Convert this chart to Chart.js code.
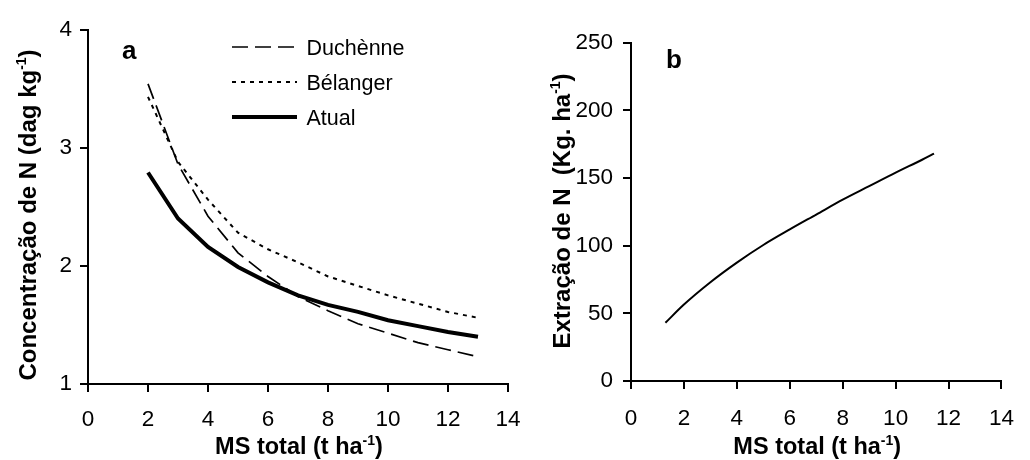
<!DOCTYPE html>
<html><head><meta charset="utf-8">
<script src="https://cdn.jsdelivr.net/npm/chart.js@4.4.0/dist/chart.umd.min.js"></script>
<style>
html,body{margin:0;padding:0;background:#fff;}
#wrap{position:relative;width:1030px;height:460px;background:#fff;}
canvas{position:absolute;left:0;top:0;}
</style></head><body>
<div id="wrap">
<canvas id="ca" width="1030" height="460"></canvas>
<canvas id="cb" width="1030" height="460"></canvas>
</div>
<script>
// ---- data ----
const msTotal   = [2, 3, 4, 5, 6, 7, 8, 9, 10, 11, 12, 13];
const duchenne  = [3.54, 2.86, 2.42, 2.11, 1.91, 1.74, 1.62, 1.51, 1.43, 1.35, 1.29, 1.23];
const belanger  = [3.43, 2.88, 2.56, 2.28, 2.14, 2.03, 1.91, 1.83, 1.75, 1.68, 1.61, 1.56];
const atual     = [2.79, 2.40, 2.16, 1.99, 1.86, 1.75, 1.67, 1.61, 1.54, 1.49, 1.44, 1.40];
const msTotalB  = [1.3, 2, 3, 4, 5, 6, 7, 8, 9, 10, 11, 11.45];
const extracao  = [43, 56.5, 73, 87.5, 100.5, 112, 123, 134, 144, 154, 163.5, 168];
const xTicks    = [0, 2, 4, 6, 8, 10, 12, 14];
const yTicksA   = [1, 2, 3, 4];
const yTicksB   = [0, 50, 100, 150, 200, 250];
const seriesNames = ['Duchènne', 'Bélanger', 'Atual'];

const FAM = "'Liberation Sans', Arial, Helvetica, sans-serif";
const pts = (xs, ys) => xs.map((x, i) => ({x: x, y: ys[i]}));

function drawRich(ctx, parts, x, y, size, rotate) {
  ctx.save();
  ctx.translate(x, y);
  if (rotate) ctx.rotate(-Math.PI / 2);
  ctx.fillStyle = '#000';
  ctx.textAlign = 'left';
  ctx.textBaseline = 'alphabetic';
  const supSize = Math.round(size * 0.6);
  const widths = parts.map(p => {
    ctx.font = 'bold ' + (p.sup ? supSize : size) + 'px ' + FAM;
    return ctx.measureText(p.t).width;
  });
  const total = widths.reduce((a, b) => a + b, 0);
  let cur = -total / 2;
  parts.forEach((p, i) => {
    ctx.font = 'bold ' + (p.sup ? supSize : size) + 'px ' + FAM;
    ctx.fillText(p.t, cur, p.sup ? -size * 0.4 : 0);
    cur += widths[i];
  });
  ctx.restore();
}

function axisCfg(min, max, ticksArr, pad, fitProp, fitVal) {
  return {
    type: 'linear', min: min, max: max,
    afterBuildTicks: s => { s.ticks = ticksArr.map(v => ({value: v})); },
    grid: {drawOnChartArea: false, drawTicks: true, tickLength: 8, color: '#000', lineWidth: 2},
    border: {display: true, color: '#000', width: 2},
    ticks: {color: '#000', font: {family: FAM, size: 22.5}, padding: pad, maxRotation: 0, autoSkip: false},
    title: {display: false},
    afterFit: s => { s[fitProp] = fitVal; }
  };
}

const xTitle = [{t: 'MS total (t ha'}, {t: '-1', sup: true}, {t: ')'}];

const textA = {
  id: 'textA',
  afterDraw(chart) {
    const ctx = chart.ctx;
    const ca = chart.chartArea;
    drawRich(ctx, xTitle, (ca.left + ca.right) / 2 + 1, 454, 23.5, false);
    drawRich(ctx, [{t: 'Concentração de N (dag kg'}, {t: '-1', sup: true}, {t: ')'}], 36, 215, 24, true);
    ctx.save();
    ctx.fillStyle = '#000';
    ctx.font = 'bold 26px ' + FAM;
    ctx.fillText('a', 122, 59);
    // legend
    chart.data.datasets.forEach((ds, i) => {
      const y = 47 + 35 * i;
      ctx.beginPath();
      ctx.setLineDash(ds.borderDash || []);
      ctx.lineWidth = ds.borderWidth;
      ctx.strokeStyle = ds.borderColor;
      ctx.moveTo(232, y); ctx.lineTo(297, y);
      ctx.stroke();
      ctx.setLineDash([]);
      ctx.font = '21.5px ' + FAM;
      ctx.fillStyle = '#000';
      ctx.fillText(ds.label, 306.5, y + 7.8);
    });
    ctx.restore();
  }
};

const textB = {
  id: 'textB',
  afterDraw(chart) {
    const ctx = chart.ctx;
    const ca = chart.chartArea;
    drawRich(ctx, xTitle, (ca.left + ca.right) / 2 + 1, 454, 23.5, false);
    drawRich(ctx, [{t: 'Extração de N  (Kg. ha'}, {t: '-1', sup: true}, {t: ')'}], 570, 211, 24, true);
    ctx.save();
    ctx.fillStyle = '#000';
    ctx.font = 'bold 26px ' + FAM;
    ctx.fillText('b', 666, 68);
    ctx.restore();
  }
};

new Chart(document.getElementById('ca'), {
  type: 'scatter',
  data: {
    datasets: [
      {label: seriesNames[0], data: pts(msTotal, duchenne), showLine: true, borderColor: '#000', borderWidth: 1.7, borderDash: [16, 7], pointRadius: 0, fill: false, tension: 0},
      {label: seriesNames[1], data: pts(msTotal, belanger), showLine: true, borderColor: '#000', borderWidth: 2, borderDash: [4, 5], pointRadius: 0, fill: false, tension: 0},
      {label: seriesNames[2], data: pts(msTotal, atual), showLine: true, borderColor: '#000', borderWidth: 4, pointRadius: 0, fill: false, tension: 0}
    ]
  },
  options: {
    responsive: false, animation: false, devicePixelRatio: 1,
    layout: {padding: {left: 0, top: 29.5, right: 522, bottom: 0}},
    plugins: {legend: {display: false}, tooltip: {enabled: false}},
    scales: {
      x: axisCfg(0, 14, xTicks, 14, 'height', 76),
      y: axisCfg(1, 4, yTicksA, 8, 'width', 88)
    }
  },
  plugins: [textA]
});

new Chart(document.getElementById('cb'), {
  type: 'scatter',
  data: {
    datasets: [
      {label: 'Extração de N', data: pts(msTotalB, extracao), showLine: true, borderColor: '#000', borderWidth: 2, pointRadius: 0, fill: false, tension: 0.4, cubicInterpolationMode: 'monotone'}
    ]
  },
  options: {
    responsive: false, animation: false, devicePixelRatio: 1,
    layout: {padding: {left: 0, top: 42.7, right: 14, bottom: 0}},
    plugins: {legend: {display: false}, tooltip: {enabled: false}},
    scales: {
      x: axisCfg(0, 14, xTicks, 16, 'height', 79),
      y: axisCfg(0, 250, yTicksB, 10, 'width', 631)
    }
  },
  plugins: [textB]
});
</script>
</body></html>
